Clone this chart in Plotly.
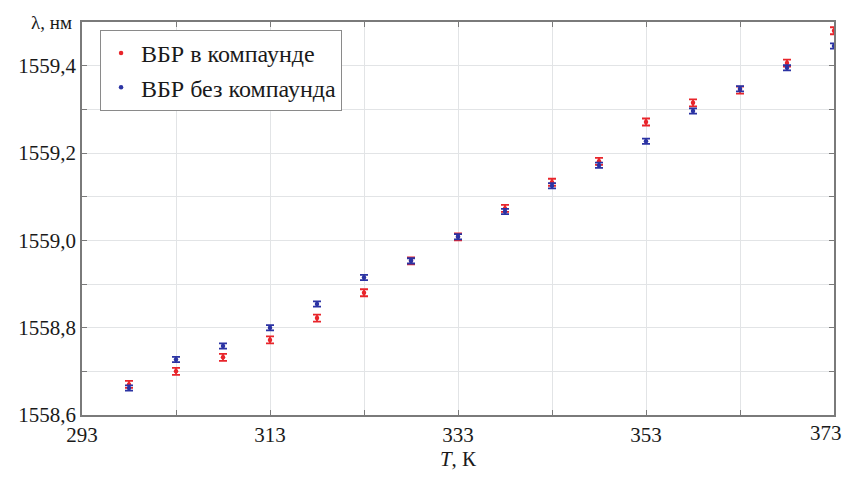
import plotly.graph_objects as go

temps = [298, 303, 308, 313, 318, 323, 328, 333, 338, 343, 348, 353, 358, 363, 368, 373]
red_vals = [1558.670, 1558.700, 1558.732, 1558.772, 1558.822, 1558.880, 1558.953, 1559.008,
            1559.073, 1559.133, 1559.181, 1559.271, 1559.315, 1559.344, 1559.406, 1559.480]
blue_vals = [1558.662, 1558.727, 1558.758, 1558.800, 1558.854, 1558.915, 1558.953, 1559.008,
             1559.066, 1559.125, 1559.172, 1559.227, 1559.296, 1559.347, 1559.395, 1559.445]
red_err = [0.008] * len(temps)
blue_err = [0.006] * len(temps)

x_tickvals = [293, 303, 313, 323, 333, 343, 353, 363, 373]
x_ticktext = ["293", "", "313", "", "333", "", "353", "", ""]
y_tickvals = [1558.6, 1558.7, 1558.8, 1558.9, 1559.0, 1559.1, 1559.2, 1559.3, 1559.4, 1559.5]
y_ticktext = ["1558,6", "", "1558,8", "", "1559,0", "", "1559,2", "", "1559,4", ""]

RED = "#e8252b"
BLUE = "#2b33a3"
FONT = "Liberation Serif"
LEG_FONT = "Times New Roman"
TXT = "#1a1a1a"

fig = go.Figure()
fig.add_trace(go.Scatter(
    x=temps, y=red_vals, mode="markers", name="ВБР в компаунде",
    marker=dict(color=RED, size=4.5),
    error_y=dict(type="data", array=red_err, color=RED, thickness=1.8, width=4),
))
fig.add_trace(go.Scatter(
    x=temps, y=blue_vals, mode="markers", name="ВБР без компаунда",
    marker=dict(color=BLUE, size=4.5),
    error_y=dict(type="data", array=blue_err, color=BLUE, thickness=1.8, width=4),
))

axis_common = dict(
    showline=True, linecolor="#7a7a7a", linewidth=1.5, mirror="ticks",
    ticks="inside", ticklen=5, tickcolor="#7a7a7a", tickwidth=1,
    showgrid=True, gridcolor="#e2e4e6", gridwidth=1, zeroline=False,
    tickfont=dict(family=FONT, size=21, color=TXT),
)

fig.update_layout(
    width=848, height=478,
    margin=dict(l=82, r=12, t=22, b=60),
    paper_bgcolor="white", plot_bgcolor="white",
    font=dict(family=FONT, color=TXT),
    xaxis=dict(range=[293, 373], tickvals=x_tickvals, ticktext=x_ticktext,
               title=dict(text="<i>T</i>, К", font=dict(family=FONT, size=21, color=TXT), standoff=4),
               **axis_common),
    yaxis=dict(range=[1558.6, 1559.5], tickvals=y_tickvals, ticktext=y_ticktext,
               **axis_common),
    legend=dict(x=0.024, y=0.98, xanchor="left", yanchor="top",
                bgcolor="white", bordercolor="#8a8a8a", borderwidth=1,
                font=dict(family=LEG_FONT, size=24, color=TXT),
                itemwidth=30, tracegroupgap=8),
    showlegend=True,
    annotations=[
        dict(text="λ, нм", xref="paper", yref="paper", x=0, y=1,
             xanchor="right", yanchor="middle", xshift=-8, yshift=0,
             showarrow=False, font=dict(family=FONT, size=19, color=TXT)),
        dict(text="373", xref="x", yref="paper", x=373, y=0,
             xanchor="right", yanchor="top", xshift=10, yshift=-4,
             showarrow=False, font=dict(family=FONT, size=21, color=TXT)),
    ],
)

fig.write_html("out.html", config={"displayModeBar": False},
               post_script="document.body.style.margin='0';document.body.style.overflow='hidden';")
